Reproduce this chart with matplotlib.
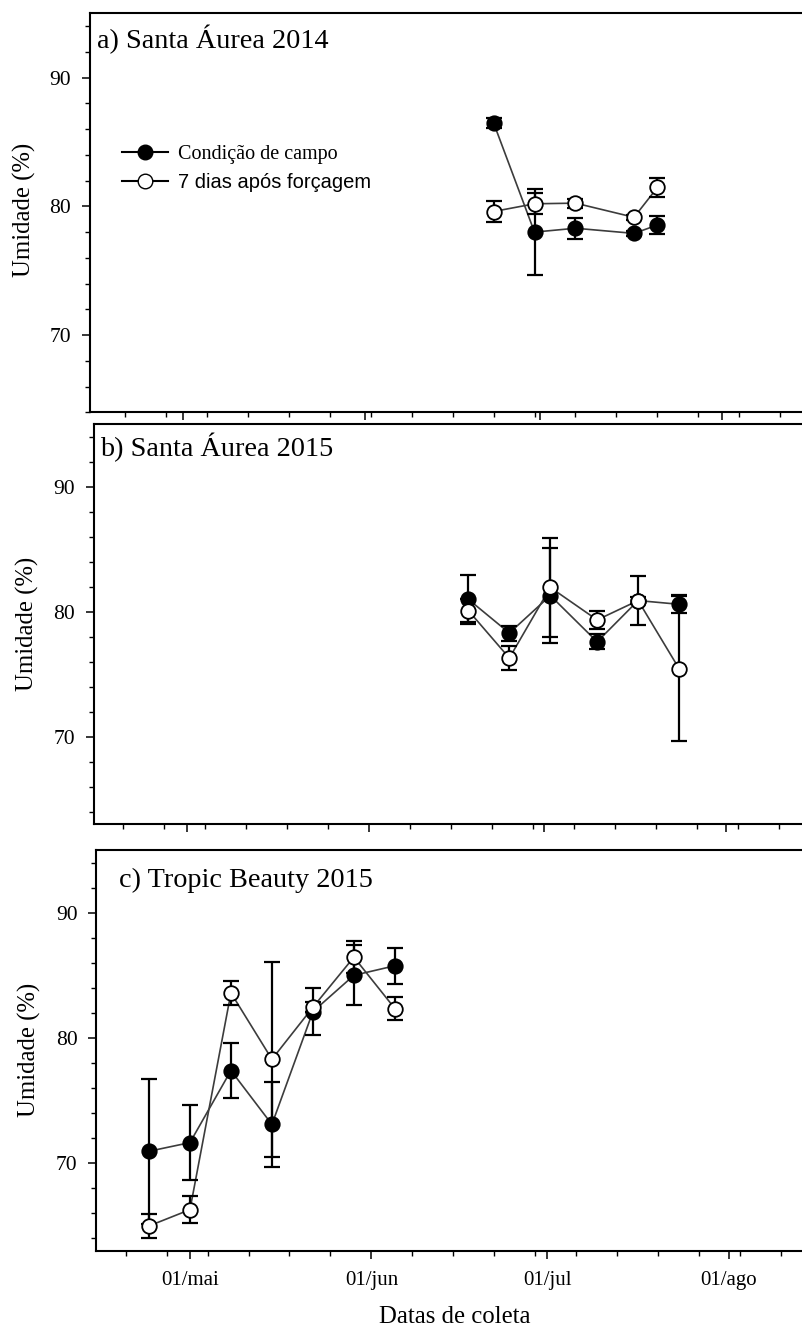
import datetime as dt

import matplotlib
matplotlib.use("Agg")
import matplotlib.pyplot as plt
import matplotlib.dates as mdates
from matplotlib.lines import Line2D
from matplotlib.ticker import FuncFormatter, MultipleLocator

# ---------------------------------------------------------------- data
series_labels = ["Condição de campo", "7 dias após forçagem"]
month_names = ["jan", "fev", "mar", "abr", "mai", "jun",
               "jul", "ago", "set", "out", "nov", "dez"]
y_ticks = [70, 80, 90]

# a) Santa Áurea 2014
titulo_a = "a) Santa Áurea 2014"
datas_a = ["2014-06-23", "2014-06-30", "2014-07-07", "2014-07-17", "2014-07-21"]
campo_a = [86.5, 78.0, 78.3, 77.9, 78.55]
campo_a_err = [0.4, 3.35, 0.8, 0.2, 0.68]
forc_a = [79.6, 80.2, 80.25, 79.15, 81.47]
forc_a_err = [0.85, 0.8, 0.35, 0.2, 0.73]

# b) Santa Áurea 2015
titulo_b = "b) Santa Áurea 2015"
datas_b = ["2015-06-18", "2015-06-25", "2015-07-02", "2015-07-10",
           "2015-07-17", "2015-07-24"]
campo_b = [81.0, 78.3, 81.3, 77.6, 80.9, 80.6]
campo_b_err = [1.95, 0.6, 3.8, 0.6, 0.3, 0.72]
forc_b = [80.1, 76.3, 81.95, 79.35, 80.9, 75.45]
forc_b_err = [0.9, 0.95, 3.95, 0.72, 1.96, 5.8]

# c) Tropic Beauty 2015
titulo_c = "c) Tropic Beauty 2015"
datas_c = ["2015-04-24", "2015-05-01", "2015-05-08", "2015-05-15",
           "2015-05-22", "2015-05-29", "2015-06-05"]
campo_c = [70.96, 71.65, 77.4, 73.1, 82.1, 85.0, 85.76]
campo_c_err = [5.8, 3.0, 2.2, 3.4, 1.9, 2.4, 1.45]
forc_c = [65.0, 66.3, 83.6, 78.3, 82.45, 86.45, 82.35]
forc_c_err = [0.94, 1.1, 0.95, 7.8, 0.4, 1.3, 0.9]

y_label = "Umidade (%)"
x_label = "Datas de coleta"

# ---------------------------------------------------------------- layout
W, H = 803, 1332
SERIF = "Liberation Serif"
SANS = "Liberation Sans"
plt.rcParams["font.family"] = [SERIF, "DejaVu Serif"]

fig = plt.figure(figsize=(W / 100, H / 100), dpi=100)

PX_PER_DAY = 5.854
N_DAYS = 125          # 15/abr .. 18/ago


def rect(left, top, bottom):
    return [left / W, 1 - bottom / H, N_DAYS * PX_PER_DAY / W, (bottom - top) / H]


def parse(ds):
    return [dt.datetime.strptime(d, "%Y-%m-%d") for d in ds]


def fmt_date(x, pos):
    d = mdates.num2date(x)
    return f"{d.day:02d}/{month_names[d.month - 1]}"


panels = [
    dict(title=titulo_a, year=2014, datas=datas_a, campo=campo_a, ce=campo_a_err,
         forc=forc_a, fe=forc_a_err, rect=rect(89.6, 13.3, 412.3), ylim=(64, 95),
         title_xy=(97, 48), ylab_xy=(24.5, 210), xlabels=False),
    dict(title=titulo_b, year=2015, datas=datas_b, campo=campo_b, ce=campo_b_err,
         forc=forc_b, fe=forc_b_err, rect=rect(93.7, 424.3, 824.3), ylim=(63, 95),
         title_xy=(100, 456), ylab_xy=(27, 624), xlabels=False),
    dict(title=titulo_c, year=2015, datas=datas_c, campo=campo_c, ce=campo_c_err,
         forc=forc_c, fe=forc_c_err, rect=rect(96.3, 850, 1251), ylim=(63, 95),
         title_xy=(119, 887), ylab_xy=(29.5, 1050), xlabels=True),
]

LINE_COLOR = "#3c3c3c"
MS = 10.5

axes = []
for p in panels:
    ax = fig.add_axes(p["rect"])
    axes.append(ax)
    x = parse(p["datas"])

    # connecting lines
    ax.plot(x, p["campo"], color=LINE_COLOR, lw=1.2, zorder=1)
    ax.plot(x, p["forc"], color=LINE_COLOR, lw=1.2, zorder=1)
    # error bars
    for vals, err in ((p["campo"], p["ce"]), (p["forc"], p["fe"])):
        ax.errorbar(x, vals, yerr=err, fmt="none", ecolor="black",
                    elinewidth=1.6, capsize=6, capthick=1.6, zorder=2)
    # markers
    ax.plot(x, p["campo"], ls="none", marker="o", ms=MS, mfc="black",
            mec="black", mew=1.2, zorder=3)
    ax.plot(x, p["forc"], ls="none", marker="o", ms=MS, mfc="white",
            mec="black", mew=1.3, zorder=4)

    y0 = p["year"]
    ax.set_xlim(dt.datetime(y0, 4, 15), dt.datetime(y0, 8, 18))
    ax.set_ylim(*p["ylim"])

    ax.xaxis.set_major_locator(mdates.MonthLocator())
    ax.xaxis.set_minor_locator(mdates.WeekdayLocator(byweekday=mdates.MO))
    ax.xaxis.set_major_formatter(FuncFormatter(fmt_date))
    ax.set_yticks(y_ticks)
    ax.yaxis.set_minor_locator(MultipleLocator(2))

    for side in ("top", "bottom", "left", "right"):
        ax.spines[side].set_linewidth(1.5)
    ax.tick_params(which="major", direction="out", length=5.5, width=1.1,
                   labelsize=15.5, pad=8)
    ax.tick_params(axis="x", which="major", labelsize=15, pad=9)
    ax.tick_params(which="minor", direction="out", length=3.6, width=1.0)
    ax.tick_params(axis="x", labelbottom=p["xlabels"])
    for lab in ax.get_xticklabels() + ax.get_yticklabels():
        lab.set_family(SERIF)

    tx, ty = p["title_xy"]
    fig.text(tx / W, 1 - ty / H, p["title"], fontsize=20.3, family=SERIF,
             ha="left", va="baseline")
    lx, ly = p["ylab_xy"]
    fig.text(lx / W, 1 - ly / H, y_label, fontsize=17.8, family=SERIF,
             rotation=90, ha="center", va="center")

fig.text(455 / W, 1 - 1317 / H, x_label, fontsize=17.8, family=SERIF,
         ha="center", va="center")

# legend in the first panel
handles = [
    Line2D([], [], color="black", lw=1.5, marker="o", ms=MS, mfc="black", mec="black"),
    Line2D([], [], color="black", lw=1.5, marker="o", ms=MS, mfc="white", mec="black"),
]
leg = axes[0].legend(handles, series_labels, loc="upper left",
                     bbox_to_anchor=(122.5 / W, 1 - 145 / H),
                     bbox_transform=fig.transFigure, frameon=False,
                     fontsize=14.5, handlelength=2.25, handletextpad=0.5,
                     labelspacing=0.44, borderpad=0, borderaxespad=0)
texts = leg.get_texts()
texts[0].set_family(SERIF)
texts[1].set_family(SANS)
texts[1].set_fontsize(14.5)

fig.savefig("out.png", dpi=100)
